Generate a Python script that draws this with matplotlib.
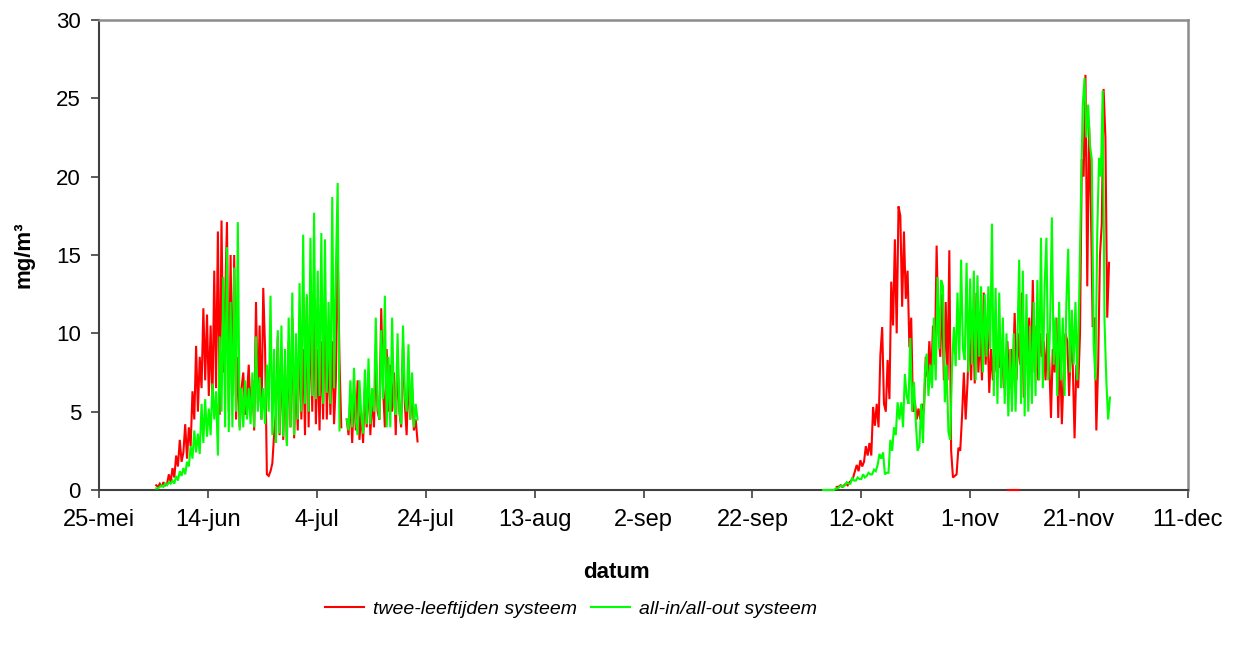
import numpy as np
import pandas as pd
import matplotlib
matplotlib.use("Agg")
import matplotlib.pyplot as plt
from matplotlib.lines import Line2D

plt.rcParams['font.family'] = ['Liberation Sans', 'DejaVu Sans']

nan = np.nan

# ---------------- data (mg/m3, 8-hourly readings) ----------------
series_names = ['twee-leeftijden systeem', 'all-in/all-out systeem']

red_summer_start = '2005-06-04 12:00'
red_summer = [
    0.3, 0.2, 0.4,   0.2, 0.5, 0.3,   0.4, 1.0, 0.5,   1.4, 0.8, 2.2,
    1.5, 3.2, 1.8,   2.4, 4.2, 2.0,   4.0, 2.8, 6.3,   4.5, 9.2, 5.0,
    8.5, 6.5, 11.6,  7.0, 11.2, 6.0,  10.5, 5.5, 14.0, 6.5, 16.5, 4.8,
    17.2, 7.5, 12.0, 17.1, 5.0, 15.0, 6.0, 15.0, 4.5,  8.5, 4.0, 6.5,
    7.5, 4.8, 6.0,   8.0, 5.0, 7.0,   3.8, 12.0, 5.5,  10.5, 4.5, 12.9,
    9.0, 1.0, 0.9,   1.2, 1.7, 3.6,   5.0, 9.8, 3.5,   9.0, 3.2, 8.0,
    3.0, 9.5, 4.0,   11.0, 3.3, 7.5,  3.8, 10.0, 4.5,  9.0, 3.5, 12.3,
    4.0, 11.5, 5.0,  12.0, 4.2, 9.0,  3.8, 9.5, 4.5,   12.5, 4.5, 9.0,
    4.8, 9.5, 4.2,   7.0, 15.4, 8.3,  4.0, nan, nan,   4.5, 3.5, 6.0,
    3.0, 6.5, 3.8,   7.0, 3.2, 5.0,   3.0, 6.5, 4.0,   7.5, 3.5, 6.0,
    4.0, 8.5, 5.0,   4.5, 11.6, 6.5,  4.0, 9.0, 5.0,   8.0, 5.0, 7.5,
    3.5, 8.5, 5.0,   4.0, 9.4, 5.5,   3.5, 7.5, 4.5,   6.5, 3.8, 4.5,
    3.1]

green_summer_start = '2005-06-04 12:00'
green_summer = [
    0.1, 0.1, 0.2,   0.3, 0.2, 0.4,   0.3, 0.5, 0.4,   0.6, 0.4, 0.9,
    0.6, 1.2, 0.9,   1.4, 1.0, 1.8,   1.5, 2.8, 2.0,   3.8, 2.4, 3.6,
    2.3, 5.5, 3.0,   5.8, 3.4, 5.2,   3.5, 6.8, 4.5,   6.3, 2.2, 9.8,
    5.0, 13.6, 4.0,  15.5, 3.7, 12.0, 4.0, 14.2, 5.0,  17.1, 3.8, 6.5,
    4.0, 7.0, 4.5,   6.5, 4.2, 7.5,   4.0, 9.8, 5.0,   7.2, 4.5, 6.5,
    4.2, 8.0, 5.0,   12.4, 3.5, 9.0,  3.0, 10.2, 3.6,  10.5, 3.4, 9.0,
    2.8, 11.0, 4.0,  12.6, 3.5, 10.0, 4.5, 13.2, 5.0,  16.3, 5.5, 12.5,
    5.0, 16.1, 6.0,  17.7, 5.8, 14.0, 6.0, 16.4, 5.5,  16.0, 6.2, 12.0,
    5.5, 18.7, 6.5,  14.0, 19.6, 3.8, nan, nan, nan,   4.5, 3.8, 7.0,
    4.0, 7.8, 4.5,   3.5, 7.0, 4.8,   3.6, 7.7, 4.2,   8.4, 4.2, 6.5,
    5.0, 11.0, 5.5,  4.5, 10.2, 5.8,  12.4, 4.0, 8.5,  4.0, 11.0, 5.5,
    4.8, 10.0, 5.0,  4.2, 10.5, 6.0,  5.0, 9.3, 4.5,   7.5, 4.0, 5.5,
    4.5]

red_autumn_start = '2005-10-07 12:00'
red_autumn = [
    0.2, 0.2, 0.3,   0.2, 0.3, 0.4,   0.3, 0.5, 0.6,   0.8, 1.2, 1.6,
    1.2, 1.9, 1.5,   1.8, 2.8, 2.2,   3.0, 2.2, 5.3,   4.1, 5.5, 4.0,
    8.6, 10.4, 5.5,  5.0, 8.3, 5.8,   13.3, 10.5, 16.0, 10.0, 18.1, 17.5,
    11.7, 16.5, 12.2, 14.0, 9.1, 11.0, 5.0, 5.7, 4.5,  5.2, 4.5, 5.5,
    5.0, 8.5, 7.2,   9.5, 7.0, 10.5,  8.0, 15.6, 10.0, 8.5, 12.5, 7.0,
    12.0, 7.0, 15.3, 2.5, 0.8, 0.9,   1.0, 2.7, 2.5,   4.7, 7.5, 4.5,
    6.8, 10.4, 7.0,  11.5, 6.8, 12.6, 7.5, 10.0, 7.0,  12.6, 8.0, 10.5,
    6.2, 9.0, 7.0,   10.0, 7.5, 9.5,  7.8, 9.5, 6.5,   8.0, 9.5, 6.5,
    9.0, 7.0, 11.3,  7.0, 10.0, 8.0,  12.6, 5.9, 9.0,  8.0, 11.0, 7.5,
    13.4, 7.5, 10.5, 7.0, 10.0, 8.5,  9.5, 7.0, 10.0,  8.5, 4.6, 9.0,
    7.5, 11.0, 4.6,  9.0, 4.2, 7.5,   10.0, 9.5, 6.0,  9.5, 8.0, 3.3,
    8.0, 6.5, 10.0,  21.1, 20.0, 26.5, 13.0, 23.2, 18.0, 10.4, 11.0, 3.8,
    8.0, 15.0, 17.0, 25.6, 22.5, 11.0, 14.5]

red_zero_start = '2005-11-08 00:00'
red_zero = [0.0, 0.0, 0.0, 0.0, 0.0, 0.0, 0.0]

green_autumn_start = '2005-10-05 00:00'
green_autumn = [
    0.0, 0.0, 0.0,   0.0, 0.0, 0.0,   0.0, 0.1, 0.1,   0.2, 0.3, 0.2,
    0.3, 0.5, 0.4,   0.4, 0.8, 0.6,   0.6, 0.8, 0.7,   0.7, 1.0, 0.8,
    0.9, 1.1, 1.0,   1.0, 1.3, 1.2,   1.6, 2.3, 2.0,   2.4, 1.0, 1.1,
    1.1, 3.2, 2.5,   4.0, 3.5, 5.6,   4.5, 5.6, 4.0,   7.4, 6.0, 5.5,
    9.7, 5.0, 6.9,   4.4, 2.5, 2.8,   5.5, 3.0, 7.4,   8.7, 6.0, 8.0,
    6.5, 11.0, 7.0,  13.6, 9.0, 13.4, 13.0, 5.6, 8.0,  3.7, 3.2, 7.9,
    10.4, 7.9, 12.6, 8.3, 14.7, 9.0,  8.3, 14.5, 7.5,  13.5, 8.0, 14.0,
    7.0, 13.7, 8.5,  13.0, 7.5, 12.5, 8.5, 13.0, 9.0,  17.0, 6.0, 12.9,
    5.5, 12.6, 6.5,  11.0, 5.5, 10.0, 4.7, 9.0, 5.0,   10.0, 5.0, 9.5,
    14.7, 5.5, 14.0, 4.7, 12.5, 5.0,  10.5, 5.5, 12.0, 6.0, 13.4, 7.0,
    16.1, 6.5, 13.0, 16.1, 7.0, 10.5, 17.4, 8.0, 11.0, 6.0, 12.0, 7.0,
    11.0, 6.0, 12.0, 15.4, 7.5, 11.5, 8.0, 12.0, 7.0,  12.0, 18.5, 24.5,
    26.3, 22.5, 24.6, 22.0, 21.1, 9.4, 7.0, 16.4, 21.2, 20.0, 25.5, 10.8,
    7.0, 4.5, 5.9]

x_start = '2005-05-25'
x_end = '2005-12-11'
tick_labels = ['25-mei', '14-jun', '4-jul', '24-jul', '13-aug', '2-sep',
               '22-sep', '12-okt', '1-nov', '21-nov', '11-dec']
y_ticks = [0, 5, 10, 15, 20, 25, 30]


def times(start, values):
    return pd.date_range(start, periods=len(values), freq='8h')


# ---------------- figure ----------------
W, H = 1238, 654
fig = plt.figure(figsize=(W / 100, H / 100), dpi=100)
ax = fig.add_axes([99 / W, 1 - 490 / H, (1188 - 99) / W, (490 - 20) / H])

RED = '#ff0000'
GREEN = '#00ff00'
lw = 1.5
kw = dict(lw=lw, clip_on=False, solid_joinstyle='miter')

for start, vals in [(red_summer_start, red_summer),
                    (red_autumn_start, red_autumn),
                    (red_zero_start, red_zero)]:
    ax.plot(times(start, vals), vals, color=RED, zorder=3, **kw)
for start, vals in [(green_summer_start, green_summer),
                    (green_autumn_start, green_autumn)]:
    ax.plot(times(start, vals), vals, color=GREEN, zorder=4, **kw)

ax.set_xlim(pd.Timestamp(x_start), pd.Timestamp(x_end))
ax.set_ylim(0, 30)
ax.set_xticks(pd.date_range(x_start, periods=len(tick_labels), freq='20D'))
ax.set_xticklabels(tick_labels, fontsize=17)
ax.set_yticks(y_ticks)
ax.set_yticklabels([str(v) for v in y_ticks], fontsize=16)

axis_col = '#404040'
for s in ['left', 'bottom']:
    ax.spines[s].set_color(axis_col)
    ax.spines[s].set_linewidth(1.5)
for s in ['top', 'right']:
    ax.spines[s].set_color('#8c8c8c')
    ax.spines[s].set_linewidth(1.8)
ax.tick_params(axis='both', direction='out', length=6, width=1.2,
               color=axis_col, labelcolor='black')
ax.tick_params(axis='x', pad=8)
ax.tick_params(axis='y', pad=7)

fig.text(616 / W, 1 - 573 / H, 'datum', ha='center', va='center',
         fontsize=16, fontweight='bold')
fig.text(24 / W, 1 - 255 / H, 'mg/m³', ha='center', va='center',
         rotation=90, fontsize=16, fontweight='bold')

handles = [Line2D([], [], color=RED, lw=lw), Line2D([], [], color=GREEN, lw=lw)]
leg = fig.legend(handles, series_names, loc='center', ncol=2,
                 bbox_to_anchor=(571 / W, 1 - 609 / H), frameon=False,
                 prop=dict(size=14, style='italic'), handlelength=2.0,
                 handletextpad=0.45, columnspacing=0.75)

fig.savefig('out.png', dpi=100)
